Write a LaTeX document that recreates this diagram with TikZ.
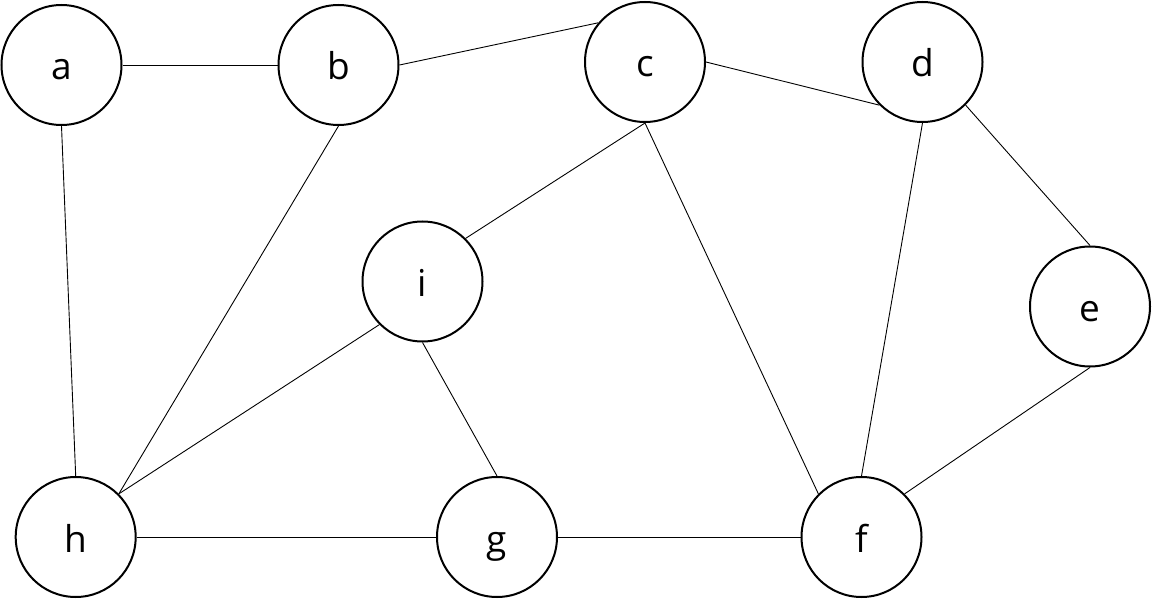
\documentclass[tikz,border=0pt]{standalone}
\usepackage{fontspec}
\setmainfont{Open Sans}
\begin{document}
\begin{tikzpicture}[x=1pt,y=-1pt,
  vertex/.style={circle,draw=black,line width=2pt,fill=white,minimum size=120pt,inner sep=0pt,
    font=\fontsize{37}{40}\selectfont,text height=30pt,text depth=0pt},
  edge/.style={draw=black,line width=0.9pt}]
\useasboundingbox (0,0) rectangle (1152,599);
\node[vertex] (a) at (61.5,65) {a};
\node[vertex] (b) at (338.5,65) {b};
\node[vertex] (c) at (645,62) {c};
\node[vertex] (d) at (922.5,62) {d};
\node[vertex] (e) at (1090,306.5) {e};
\node[vertex] (i) at (422.5,281.5) {i};
\node[vertex] (h) at (75.7,537) {h};
\node[vertex] (g) at (497,537) {g};
\node[vertex] (f) at (861.5,537) {f};
\path[edge] (a.east) -- (b.west);
\path[edge] (b.east) -- (c.140);
\path[edge] (c.east) -- (d.south west);
\path[edge] (d.south east) -- (e.north);
\path[edge] (e.south) -- (f.north east);
\path[edge] (d.south) -- (f.north);
\path[edge] (c.south) -- (f.north west);
\path[edge] (c.south) -- (i.north east);
\path[edge] (i.south west) -- (h.north east);
\path[edge] (b.south) -- (h.north east);
\path[edge] (a.south) -- (h.north);
\path[edge] (i.south) -- (g.north);
\path[edge] (h.east) -- (g.west);
\path[edge] (g.east) -- (f.west);
\end{tikzpicture}
\end{document}
